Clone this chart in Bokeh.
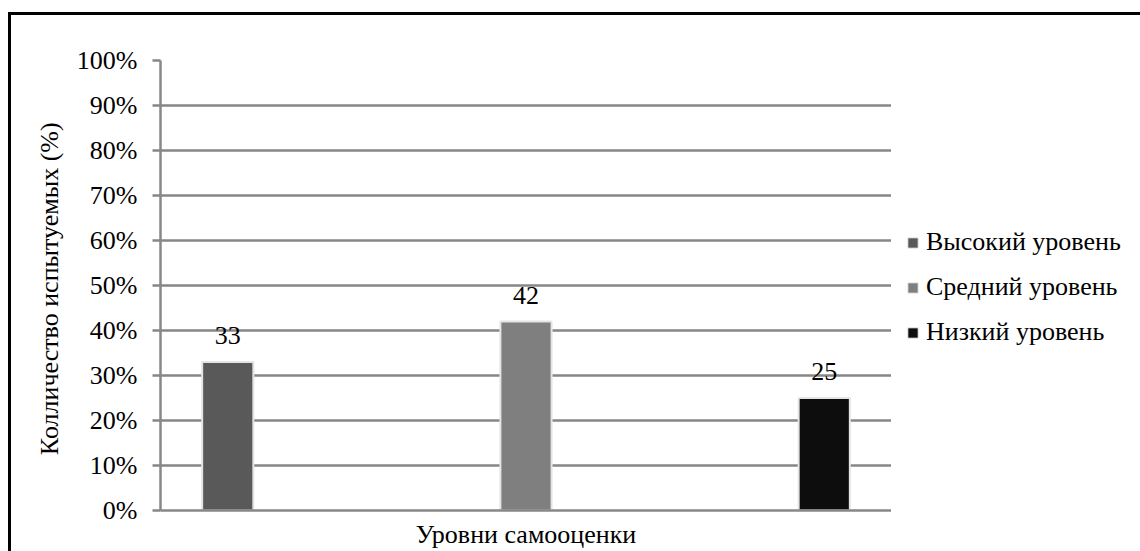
from bokeh.plotting import figure
from bokeh.layouts import row
from bokeh.models import (FactorRange, Legend, LegendItem, LabelSet,
                          ColumnDataSource, PrintfTickFormatter, FixedTicker)
from bokeh.transform import dodge
from bokeh.embed import file_html
from bokeh.resources import INLINE

# ---- data ----
categories = ["Уровни самооценки"]
series = ["Высокий уровень", "Средний уровень", "Низкий уровень"]
values = [33, 42, 25]
colors = ["#595959", "#7f7f7f", "#0d0d0d"]
y_ticks = [0, 10, 20, 30, 40, 50, 60, 70, 80, 90, 100]
y_title = "Колличество испытуемых  (%)"

FONT = "'Liberation Serif', 'Times New Roman', 'DejaVu Serif', serif"
FS = "26px"
GRID = "#878787"

W, H = 1129, 536
FL, FT, FR, FB = 149, 45, 880, 495   # frame edges in canvas px

p = figure(x_range=FactorRange(factors=categories, range_padding=0),
           y_range=(0, 100), width=FR, height=H,
           output_backend="svg", toolbar_location=None,
           min_border_left=FL, min_border_top=FT,
           min_border_right=0, min_border_bottom=H - FB)
p.outline_line_color = None
p.background_fill_color = "white"
p.border_fill_color = "white"

# grid
p.xgrid.grid_line_color = None
p.ygrid.grid_line_color = GRID
p.ygrid.grid_line_width = 2.5
p.ygrid.ticker = FixedTicker(ticks=y_ticks)

# y axis
p.yaxis.ticker = FixedTicker(ticks=y_ticks)
p.yaxis.formatter = PrintfTickFormatter(format="%d%%")
p.yaxis.axis_line_color = GRID
p.yaxis.axis_line_width = 2.5
p.yaxis.major_tick_line_color = GRID
p.yaxis.major_tick_line_width = 2.5
p.yaxis.major_tick_out = 8
p.yaxis.major_tick_in = 0
p.yaxis.minor_tick_line_color = None
p.yaxis.major_label_standoff = 15
p.yaxis.major_label_text_font = FONT
p.yaxis.major_label_text_font_size = FS
p.yaxis.major_label_text_color = "black"
p.yaxis.axis_label = y_title
p.yaxis.axis_label_text_font = FONT
p.yaxis.axis_label_text_font_size = FS
p.yaxis.axis_label_text_font_style = "normal"
p.yaxis.axis_label_text_color = "black"
p.yaxis.axis_label_standoff = 10

# x axis
p.xaxis.axis_line_color = GRID
p.xaxis.axis_line_width = 2.5
p.xaxis.major_tick_line_color = None
p.xaxis.minor_tick_line_color = None
p.xaxis.major_tick_out = 0
p.xaxis.major_label_standoff = 9
p.xaxis.major_label_text_font = FONT
p.xaxis.major_label_text_font_size = FS
p.xaxis.major_label_text_color = "black"

# legend panel as its own figure (no axes), placed to the right
lf = figure(width=W - FR, height=H, x_range=(0, 1), y_range=(0, 1),
            x_axis_type=None, y_axis_type=None,
            output_backend="svg", toolbar_location=None,
            min_border_left=0, min_border_right=0,
            min_border_top=0, min_border_bottom=0)
lf.outline_line_color = None
lf.background_fill_color = "white"
lf.border_fill_color = "white"
lf.xgrid.grid_line_color = None
lf.ygrid.grid_line_color = None

NAN = float("nan")

# bars
n = len(series)
spread = 0.408
bar_w = 0.07
items = []
for i, (name, val, col) in enumerate(zip(series, values, colors)):
    off = (i - (n - 1) / 2) * spread
    src = ColumnDataSource(dict(cat=categories, val=[val], txt=[str(val)]))
    p.vbar(x=dodge("cat", off, range=p.x_range), top="val", width=bar_w,
           bottom=0, source=src, fill_color=col,
           line_color="#e4e4e4", line_width=2)
    lbl = LabelSet(x=dodge("cat", off, range=p.x_range), y="val", text="txt",
                   source=src, y_offset=18, text_align="center",
                   text_baseline="alphabetic", text_font=FONT,
                   text_font_size=FS, text_color="black")
    p.add_layout(lbl)
    # legend swatch only (nothing plotted)
    r = lf.vbar(x=[NAN], top=[NAN], bottom=[NAN], width=0.1,
                fill_color=col, line_color="#eeeeee", line_width=1)
    items.append(LegendItem(label=name, renderers=[r]))

legend = Legend(items=items, location=(15, 163), orientation="vertical")
legend.label_text_font = FONT
legend.label_text_font_size = FS
legend.label_text_color = "black"
legend.glyph_width = 13
legend.glyph_height = 13
legend.label_standoff = 7
legend.spacing = 15
legend.margin = 0
legend.padding = 9
legend.border_line_color = None
legend.background_fill_alpha = 0
lf.add_layout(legend)

layout = row(p, lf)
layout.margin = (12, 0, 0, 8)
layout.styles = {"border-top": "3px solid black", "border-left": "3px solid black"}

open("out.html", "w").write(file_html(layout, INLINE))
